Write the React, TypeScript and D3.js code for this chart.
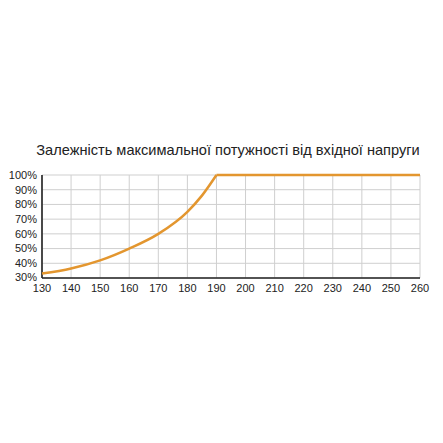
import React from 'react';
import { scaleLinear, line, curveMonotoneX } from 'd3';

const title = 'Залежність максимальної потужності від вхідної напруги';
const voltage = [130, 140, 150, 160, 170, 180, 185, 190, 200, 210, 220, 230, 240, 250, 260];
const power = [33, 36.5, 42, 50, 60, 75, 86, 100, 100, 100, 100, 100, 100, 100, 100];
const xTicks = [130, 140, 150, 160, 170, 180, 190, 200, 210, 220, 230, 240, 250, 260];
const yTicks = [30, 40, 50, 60, 70, 80, 90, 100];

const W = 443;
const H = 443;
const left = 42;
const right = 420;
const top = 175;
const bottom = 278;
const font = 'Liberation Sans, Arial, sans-serif';

const App: React.FC = () => {
  const x = scaleLinear().domain([130, 260]).range([left, right]);
  const y = scaleLinear().domain([30, 100]).range([bottom, top]);

  const pts = voltage.map((v, i) => ({ v, p: power[i] }));
  const kneeIdx = voltage.indexOf(190);
  const rising = pts.slice(0, kneeIdx + 1);
  const flat = pts.slice(kneeIdx);

  const curvePath = line<{ v: number; p: number }>()
    .x((d) => x(d.v))
    .y((d) => y(d.p))
    .curve(curveMonotoneX);
  const flatPath = line<{ v: number; p: number }>()
    .x((d) => x(d.v))
    .y((d) => y(d.p));

  return (
    <svg
      width={W}
      height={H}
      style={{ position: 'absolute', left: 0, top: 0, background: '#fff' }}
    >
      <text
        x={228}
        y={155}
        textAnchor="middle"
        fontFamily={font}
        fontSize={14.6}
        fill="#222"
      >
        {title}
      </text>

      {/* grid */}
      {xTicks.map((t) => (
        <line
          key={'gx' + t}
          x1={x(t)}
          x2={x(t)}
          y1={top}
          y2={bottom}
          stroke="#cfcfcf"
          strokeWidth={1}
        />
      ))}
      {yTicks.map((t) => (
        <line
          key={'gy' + t}
          x1={left}
          x2={right}
          y1={y(t)}
          y2={y(t)}
          stroke="#cfcfcf"
          strokeWidth={1}
        />
      ))}

      {/* axes */}
      <line x1={left} x2={left} y1={top} y2={bottom} stroke="#222" strokeWidth={1.6} />
      <line x1={left} x2={right} y1={bottom} y2={bottom} stroke="#222" strokeWidth={1.6} />

      {yTicks.map((t) => (
        <text
          key={'ly' + t}
          x={37}
          y={y(t) - (t === 30 ? 1 : 0)}
          dy="0.35em"
          textAnchor="end"
          fontFamily={font}
          fontSize={11}
          fill="#222"
        >
          {t}%
        </text>
      ))}
      {xTicks.map((t) => (
        <text
          key={'lx' + t}
          x={x(t)}
          y={292}
          textAnchor="middle"
          fontFamily={font}
          fontSize={11}
          fill="#222"
        >
          {t}
        </text>
      ))}

      <path
        d={curvePath(rising) ?? ''}
        fill="none"
        stroke="#E3962F"
        strokeWidth={2.5}
        strokeLinejoin="round"
      />
      <path
        d={flatPath(flat) ?? ''}
        fill="none"
        stroke="#E3962F"
        strokeWidth={2.5}
        strokeLinejoin="round"
      />
    </svg>
  );
};

export default App;
